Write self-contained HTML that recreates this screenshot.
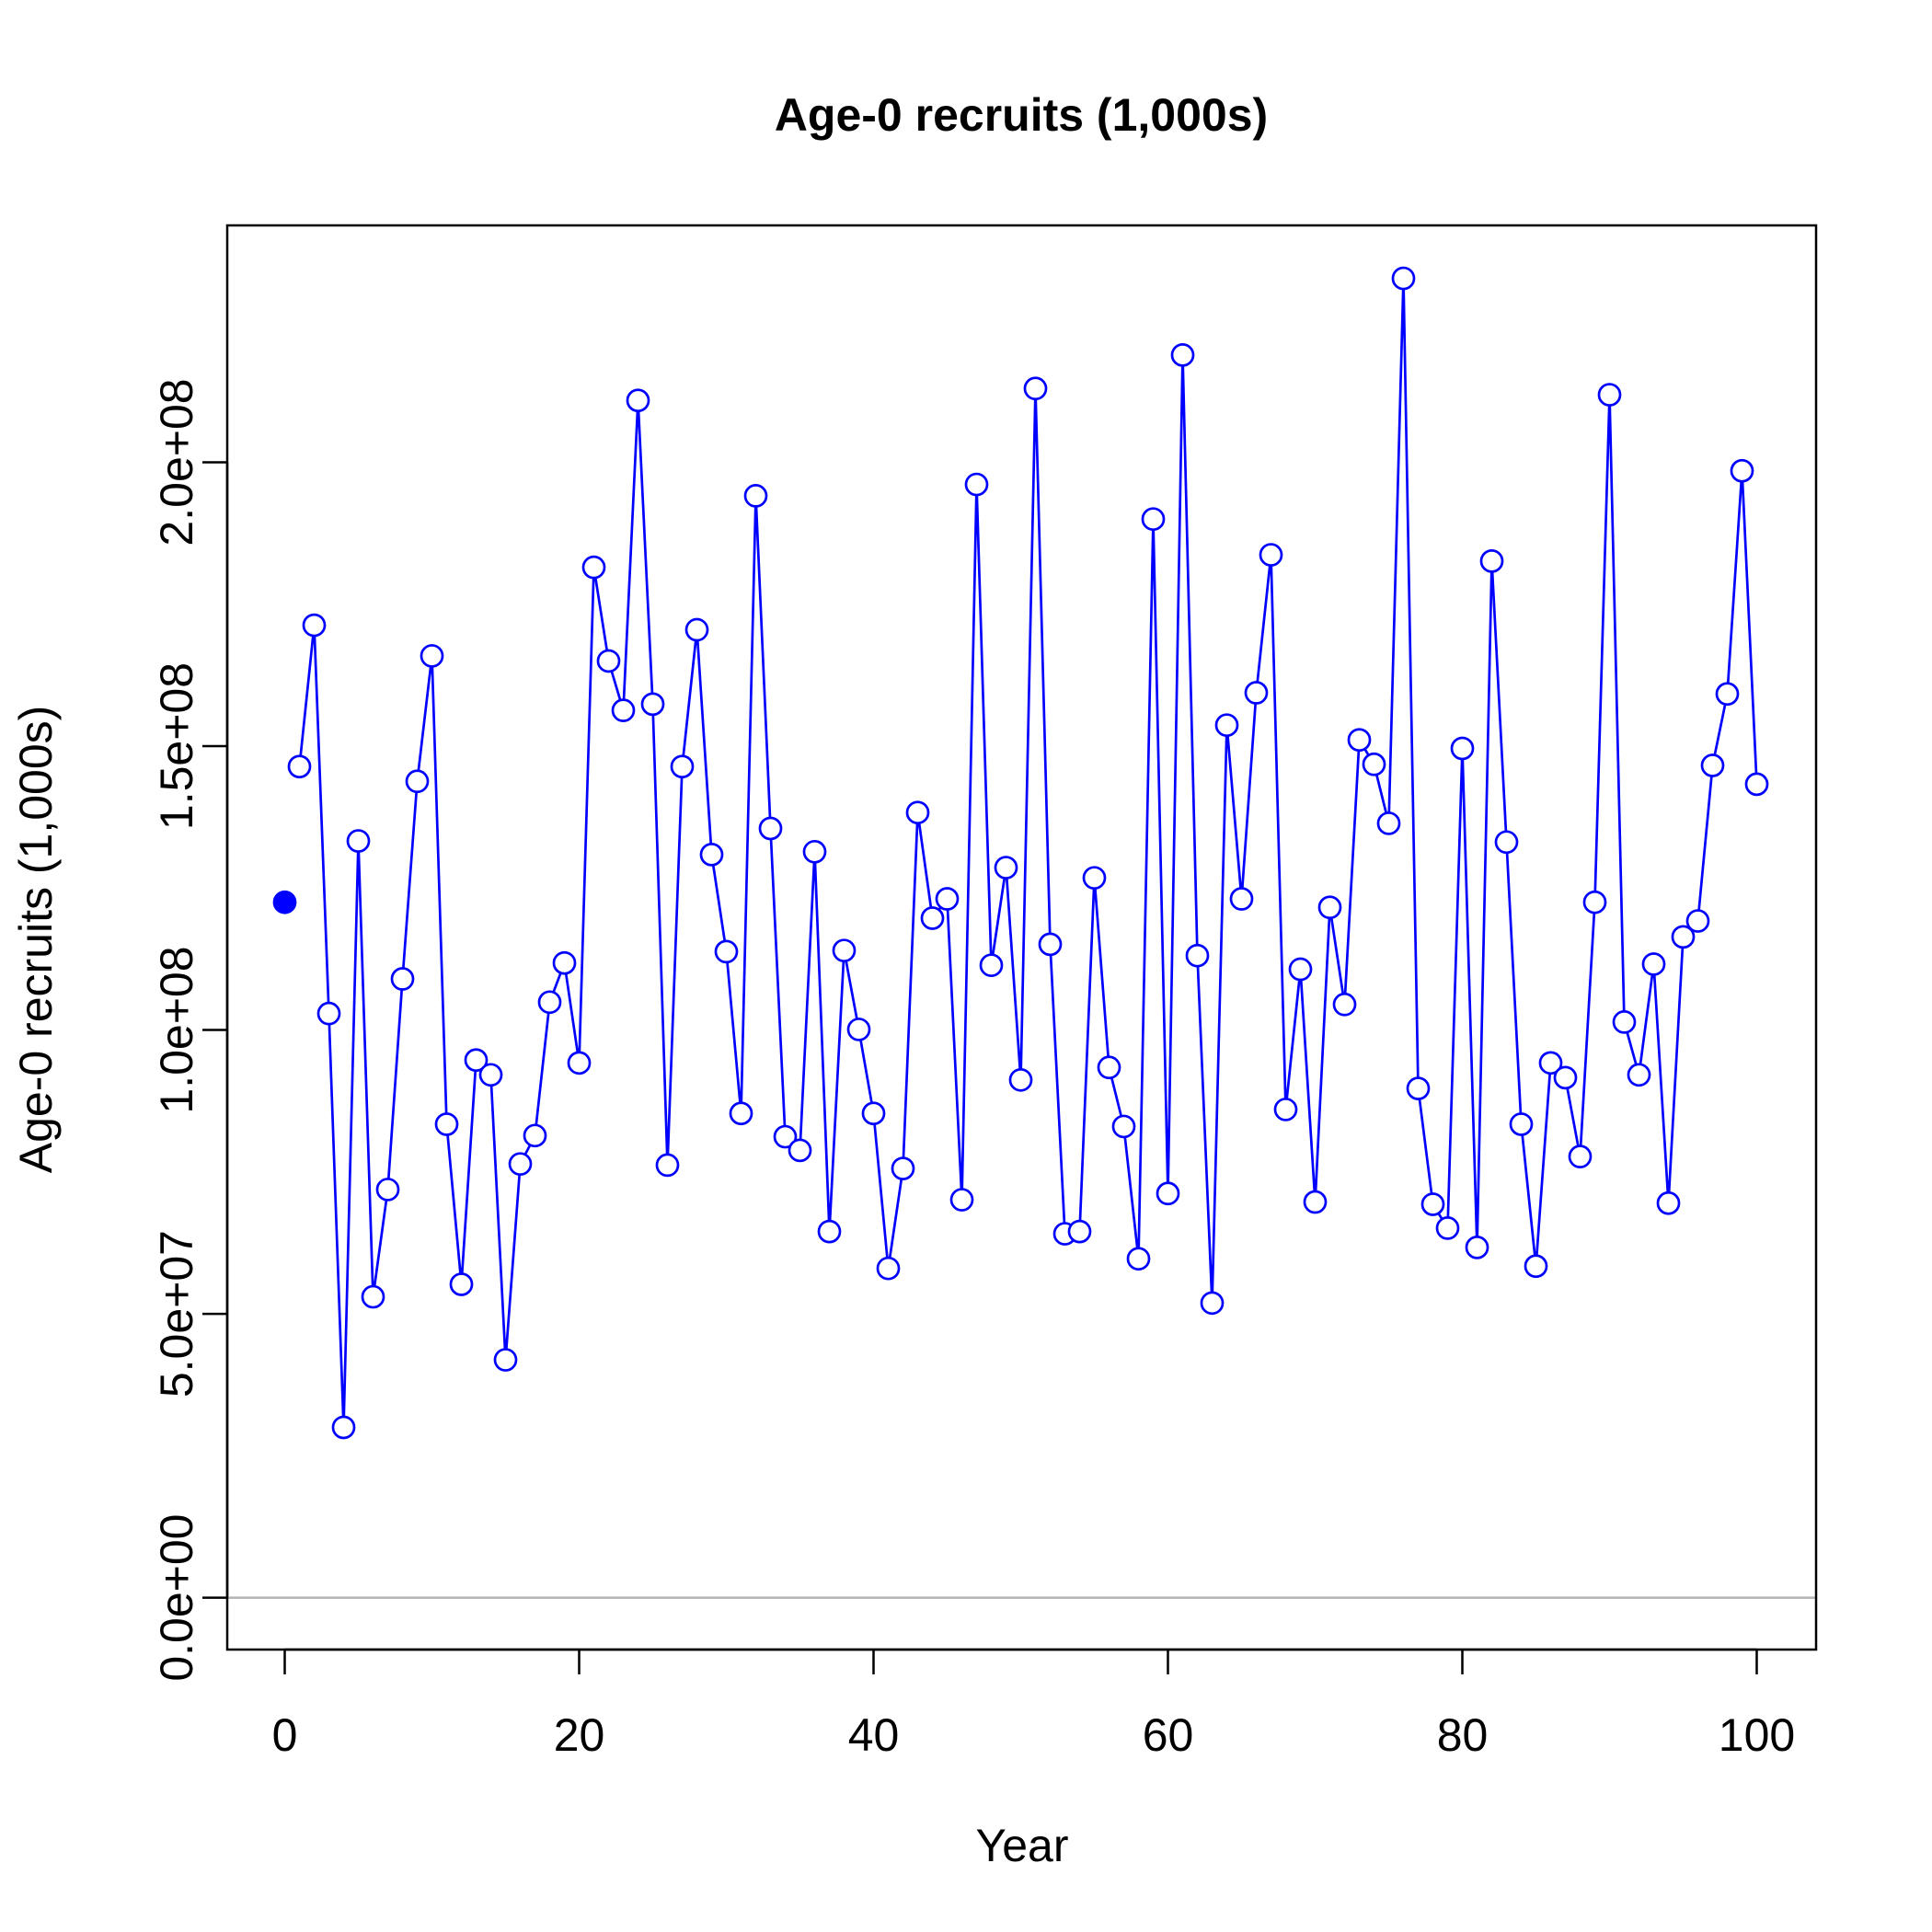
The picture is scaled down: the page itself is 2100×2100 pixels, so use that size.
<!DOCTYPE html>
<html><head><meta charset="utf-8"><style>
html,body{margin:0;padding:0;background:#fff;}
svg{display:block;font-family:"Liberation Sans",Arial,sans-serif;}
</style></head><body>
<svg id="chart" width="2100" height="2100" viewBox="0 0 2100 2100">
<rect width="2100" height="2100" fill="#fff"/>
<text x="1110" y="142" text-anchor="middle" font-size="50" font-weight="bold">Age-0 recruits (1,000s)</text>
<text x="1111" y="2023" text-anchor="middle" font-size="50">Year</text>
<text transform="translate(56,1021) rotate(-90)" text-anchor="middle" font-size="50">Age-0 recruits (1,000s)</text>
<g id="axes"></g>
<g id="marks"></g>
<rect x="247" y="245" width="1727" height="1548" fill="none" stroke="#000" stroke-width="2.5"/>
</svg>
<script>
const years = Array.from({length:101},(_,i)=>i);
const recruits = [1.225,1.464,1.713,1.029,0.300,1.333,0.530,0.719,1.090,1.438,1.659,0.834,0.552,0.947,0.921,0.419,0.764,0.814,1.049,1.118,0.942,1.815,1.650,1.563,2.109,1.574,0.762,1.464,1.705,1.309,1.138,0.853,1.941,1.355,0.812,0.788,1.314,0.645,1.140,1.001,0.853,0.580,0.756,1.383,1.197,1.231,0.701,1.961,1.114,1.286,0.912,2.130,1.151,0.641,0.645,1.268,0.934,0.830,0.597,1.900,0.712,2.189,1.131,0.519,1.537,1.231,1.594,1.837,0.860,1.107,0.697,1.216,1.045,1.511,1.468,1.364,2.324,0.897,0.693,0.651,1.496,0.617,1.826,1.331,0.834,0.584,0.942,0.916,0.777,1.225,2.119,1.014,0.921,1.116,0.695,1.164,1.192,1.466,1.592,1.985,1.433];
const xTicks = [0,20,40,60,80,100];
const yTicks = [0,0.5,1.0,1.5,2.0];
const yTickLabels = ["0.0e+00","5.0e+07","1.0e+08","1.5e+08","2.0e+08"];
const NS="http://www.w3.org/2000/svg";
function sx(v){return 309.5+(v/100)*(1909.5-309.5);}
function sy(v){return 1736.6-(v/2.0)*(1736.6-502.5);}
function mk(tag,attrs,parent){const e=document.createElementNS(NS,tag);for(const k in attrs)e.setAttribute(k,attrs[k]);parent.appendChild(e);return e;}
const axes=document.getElementById('axes'), marks=document.getElementById('marks');
let xl=mk('line',{x1:sx(0),x2:sx(100),y1:1793,y2:1793,stroke:'#000','stroke-width':2.5},axes);


xTicks.forEach(t=>{
  const l=mk('line',{x1:sx(t),x2:sx(t),y1:1793,y2:1820,stroke:'#000','stroke-width':2.5},axes);
  
  
  const tx=mk('text',{x:sx(t),y:1903,'text-anchor':'middle','font-size':50},axes);
  tx.textContent=t;
  
  
});
let yl=mk('line',{x1:247,x2:247,y1:sy(0),y2:sy(2.0),stroke:'#000','stroke-width':2.5},axes);


yTicks.forEach((t,i)=>{
  const l=mk('line',{x1:220,x2:247,y1:sy(t),y2:sy(t),stroke:'#000','stroke-width':2.5},axes);
  
  
  const tx=mk('text',{x:0,y:0,'text-anchor':'middle','font-size':50,transform:`translate(209,${sy(t)}) rotate(-90)`},axes);
  tx.textContent=yTickLabels[i];
  
  
});
let zl=mk('line',{x1:247,x2:1974,y1:sy(0),y2:sy(0),stroke:'#b3b3b3','stroke-width':2.5},marks);


let pts=[];
for(let i=1;i<years.length;i++)pts.push(sx(years[i])+','+sy(recruits[i]));
let pl=mk('polyline',{points:pts.join(' '),fill:'none',stroke:'#0000ff','stroke-width':2.7},marks);


for(let i=0;i<years.length;i++){
  const c=mk('circle',{cx:sx(years[i]),cy:sy(recruits[i]),r:11.5,fill:i===0?'#0000ff':'#fff',stroke:'#0000ff','stroke-width':2.7},marks);
  
  
}
</script>
</body></html>
